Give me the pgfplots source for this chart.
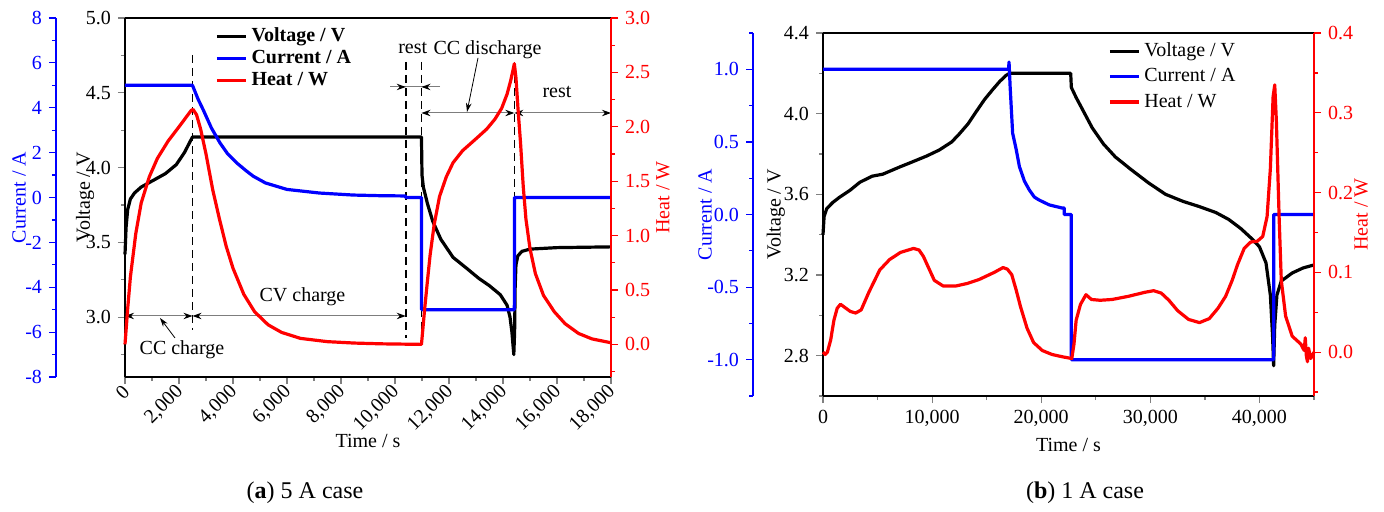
\documentclass[border=0pt]{standalone}
\usepackage{fontspec}
\setmainfont{Liberation Serif}
\usepackage{pgfplots}
\pgfplotsset{compat=1.18}
\usetikzlibrary{arrows.meta}
\definecolor{cblue}{RGB}{0,0,255}
\definecolor{cred}{RGB}{255,0,0}
\definecolor{cgray}{RGB}{125,125,125}
\tikzset{
  dl/.style={line width=1.6pt, line join=round},
  dsh/.style={black, line width=0.8pt, dash pattern=on 4pt off 2.5pt},
  ann/.style={cgray, line width=0.5pt},
  tip/.style={-{Stealth[length=4.5pt,width=3.2pt,color=black]}},
  ptr/.style={black, line width=0.4pt, -{Stealth[length=4.5pt,width=2.8pt,color=black]}},
  dbl/.style={{Stealth[length=4.5pt,width=3.2pt,color=black]}-{Stealth[length=4.5pt,width=3.2pt,color=black]}},
}
\pgfplotsset{
  base/.style={scale only axis, anchor=south west,
    /pgf/number format/assume math mode=true,
    tick align=outside, major tick length=3.5pt, minor tick length=2pt,
    every tick/.append style={line width=0.6pt},
    axis line style={line width=0.65pt},
    scaled ticks=false, clip=false},
  onedec/.style={yticklabel style={/pgf/number format/fixed, /pgf/number format/fixed zerofill, /pgf/number format/precision=1}},
  blueax/.style={axis x line=none, axis y line*=left,
    y axis line style={cblue}, ytick style={cblue}, yticklabel style={/tikz/text=cblue}, ylabel style={/tikz/text=cblue}},
  redax/.style={axis x line=none, axis y line*=right,
    y axis line style={cred}, ytick style={cred}, yticklabel style={/tikz/text=cred}, ylabel style={/tikz/text=cred}},
}
\begin{document}
\begin{tikzpicture}
\useasboundingbox (-62.5pt,-67pt) rectangle (629.5pt,188.5pt);

% ================= Panel (a) =================
\begin{axis}[base, at={(0pt,0pt)}, width=243pt, height=179.5pt,
  xmin=0, xmax=18000, ymin=2.6, ymax=5.0,
  axis x line*=box, axis y line*=left, xtick pos=bottom,
  xtick={0,2000,...,18000}, minor xtick={1000,3000,...,17000},
  ytick={3,3.5,4,4.5,5}, minor ytick={2.75,3.25,3.75,4.25,4.75},
  onedec,
  xticklabel style={xshift=3pt, yshift=0pt, rotate=45, anchor=east},
  xlabel={Time / s}, ylabel={Voltage / V},
  xlabel style={at={(axis description cs:0.5,-0.178)}, anchor=center},
  ylabel style={at={(axis description cs:-0.082,0.5)}, anchor=center},
  legend style={draw=none, fill=none, at={(axis description cs:0.185,0.985)}, anchor=north west,
    font=\bfseries, row sep=-1.2pt, inner sep=0pt},
  legend cell align=left,
  legend image code/.code={\draw[#1] (0pt,0pt) -- (14.5pt,0pt);},
]
\addplot[black, dl] table {
0 3.42
40 3.60
100 3.72
200 3.79
350 3.83
600 3.87
1000 3.91
1500 3.96
1900 4.02
2200 4.10
2400 4.17
2500 4.205
10980 4.205
11000 3.95
11050 3.87
11200 3.76
11400 3.64
11700 3.52
12150 3.40
12700 3.32
13100 3.26
13500 3.21
13900 3.15
14150 3.08
14260 3.00
14330 2.90
14400 2.75
14430 2.90
14450 3.20
14480 3.35
14550 3.41
14700 3.44
15000 3.455
16000 3.465
18000 3.47
};
\addlegendentry{Voltage / V}
\addlegendimage{cblue, dl}
\addlegendentry{Current / A}
\addlegendimage{cred, dl}
\addlegendentry{Heat / W}
% dashed separators
\draw[dsh] (axis cs:2500,4.753) -- (axis cs:2500,2.914);
\draw[dsh] (axis cs:10400,4.706) -- (axis cs:10400,2.861);
\draw[dsh] (axis cs:10980,4.706) -- (axis cs:10980,2.861);
\draw[dsh] (axis cs:14420,4.706) -- (axis cs:14420,2.747);
% CC charge / CV charge
\draw[ann, dbl] (axis cs:0,3.008) -- (axis cs:2500,3.008);
\draw[ann, dbl] (axis cs:2500,3.008) -- (axis cs:10400,3.008);
\draw[ptr] (axis cs:1852,2.861) -- (axis cs:1296,2.995);
\node at (axis cs:2111,2.78) {CC charge};
\node at (axis cs:6574,3.135) {CV charge};
% rest 1
\draw[ann] (axis cs:9815,4.539) -- (axis cs:11667,4.539);
\draw[ann, tip] (axis cs:9815,4.539) -- (axis cs:10400,4.539);
\draw[ann, tip] (axis cs:11667,4.539) -- (axis cs:10980,4.539);
\node at (axis cs:10656,4.80) {rest};
% CC discharge
\draw[ann, dbl] (axis cs:10980,4.365) -- (axis cs:14420,4.365);
\draw[ptr] (axis cs:13074,4.733) -- (axis cs:12667,4.372);
\node at (axis cs:13426,4.79) {CC discharge};
% rest 2
\draw[ann, dbl] (axis cs:14420,4.365) -- (axis cs:18000,4.365);
\node at (axis cs:16000,4.505) {rest};
\end{axis}

% current axis line (a)
\begin{axis}[base, blueax, at={(-34.5pt,0pt)}, width=100pt, height=179.5pt,
  xmin=0, xmax=1, ymin=-8, ymax=8,
  ytick={-8,-6,...,8}, minor ytick={-7,-5,...,7},
  ylabel={Current / A},
  ylabel style={at={(axis description cs:-0.185,0.5)}, anchor=center},
]
\end{axis}

% current data (a)
\begin{axis}[scale only axis, anchor=south west, at={(0pt,0pt)}, width=243pt, height=179.5pt,
  xmin=0, xmax=18000, ymin=-8, ymax=8, hide axis]
\addplot[cblue, dl] table {
0 5
2500 5
2700 4.4
2900 3.9
3200 3.1
3520 2.43
3800 1.95
4140 1.54
4500 1.18
4750 0.95
5200 0.65
6000 0.36
7200 0.2
8450 0.11
9500 0.08
10380 0.07
10400 0.0
10980 0.0
10985 -5
14420 -5
14425 0
18000 0
};
\end{axis}

% heat (a)
\begin{axis}[base, redax, at={(0pt,0pt)}, width=243pt, height=179.5pt,
  xmin=0, xmax=18000, ymin=-0.3, ymax=3.0,
  ytick={0,0.5,1,1.5,2,2.5,3}, minor ytick={-0.25,0.25,0.75,1.25,1.75,2.25,2.75},
  onedec,
  ylabel={Heat / W},
  ylabel style={at={(axis description cs:1.107,0.5)}, anchor=center},
]
\addplot[cred, dl] table {
0 0.0
100 0.33
200 0.62
400 1.02
600 1.30
900 1.54
1200 1.71
1600 1.87
2000 2.00
2300 2.10
2450 2.15
2520 2.16
2650 2.11
2800 1.98
3000 1.75
3250 1.42
3500 1.15
3750 0.90
4000 0.70
4400 0.46
4800 0.30
5300 0.18
5800 0.11
6500 0.055
7500 0.025
8500 0.012
9500 0.005
10980 0.0
11100 0.33
11200 0.58
11300 0.82
11450 1.10
11650 1.36
11900 1.54
12150 1.67
12500 1.78
13000 1.89
13400 1.98
13700 2.07
13950 2.17
14150 2.30
14280 2.42
14370 2.52
14420 2.58
14480 2.45
14560 2.15
14650 1.85
14750 1.45
14850 1.15
15000 0.88
15200 0.65
15500 0.45
15900 0.30
16300 0.19
16800 0.10
17300 0.05
18000 0.015
};
\end{axis}

% ================= Panel (b) =================
\begin{axis}[base, at={(349pt,-9.5pt)}, width=245.5pt, height=181.5pt,
  xmin=0, xmax=45000, ymin=2.6, ymax=4.4,
  axis x line*=box, axis y line*=left, xtick pos=bottom,
  xtick={0,10000,...,40000}, minor xtick={5000,15000,...,45000},
  ytick={2.8,3.2,3.6,4.0,4.4}, minor ytick={2.6,3.0,3.4,3.8,4.2},
  onedec,
  xlabel={Time / s}, ylabel={Voltage / V},
  xlabel style={at={(axis description cs:0.5,-0.135)}, anchor=center},
  ylabel style={at={(axis description cs:-0.096,0.5)}, anchor=center},
  legend style={draw=none, fill=none, at={(axis description cs:0.58,0.985)}, anchor=north west,
    row sep=0.5pt, inner sep=0pt},
  legend cell align=left,
  legend image code/.code={\draw[#1] (0pt,0pt) -- (14.5pt,0pt);},
]
\addplot[black, dl] table {
0 3.40
100 3.49
350 3.53
900 3.56
1500 3.585
2470 3.62
3380 3.66
4500 3.69
5480 3.70
7000 3.735
7920 3.755
9500 3.79
10660 3.82
11800 3.86
12500 3.90
13300 3.95
14040 4.01
14800 4.07
15560 4.12
16200 4.16
16780 4.19
17090 4.20
22700 4.20
22760 4.13
23200 4.08
23790 4.02
24670 3.93
25700 3.85
26800 3.785
28300 3.72
29880 3.655
31400 3.60
33000 3.565
34450 3.54
36000 3.51
37200 3.475
38300 3.43
39300 3.38
40000 3.34
40600 3.26
41000 3.10
41200 2.90
41300 2.75
41400 2.95
41600 3.10
42000 3.17
43000 3.21
44000 3.235
45000 3.25
};
\addlegendentry{Voltage / V}
\addlegendimage{cblue, dl}
\addlegendentry{Current / A}
\addlegendimage{cred, dl}
\addlegendentry{Heat / W}
\end{axis}

% current axis line (b)
\begin{axis}[base, blueax, at={(314pt,-9.5pt)}, width=100pt, height=181.5pt,
  xmin=0, xmax=1, ymin=-1.25, ymax=1.25,
  ytick={-1,-0.5,0,0.5,1}, minor ytick={-1.25,-0.75,-0.25,0.25,0.75,1.25},
  onedec,
  ylabel={Current / A},
  ylabel style={at={(axis description cs:-0.24,0.5)}, anchor=center},
]
\end{axis}

% current data (b)
\begin{axis}[scale only axis, anchor=south west, at={(349pt,-9.5pt)}, width=245.5pt, height=181.5pt,
  xmin=0, xmax=45000, ymin=-1.25, ymax=1.25, hide axis]
\addplot[cblue, dl] table {
0 1.0
17000 1.0
17050 1.05
17150 0.88
17380 0.56
17700 0.45
18000 0.33
18460 0.23
18900 0.17
19370 0.12
19800 0.10
20740 0.066
21900 0.045
22100 0.045
22110 0.0
22750 0.0
22760 -1.0
41300 -1.0
41310 0.0
45000 0.0
};
\end{axis}

% heat (b)
\begin{axis}[base, redax, at={(349pt,-9.5pt)}, width=245.5pt, height=181.5pt,
  xmin=0, xmax=45000, ymin=-0.055, ymax=0.4,
  ytick={0,0.1,0.2,0.3,0.4}, minor ytick={-0.05,0.05,0.15,0.25,0.35},
  onedec,
  ylabel={Heat / W},
  ylabel style={at={(axis description cs:1.096,0.5)}, anchor=center},
]
\addplot[cred, dl] table {
0 0.0
200 -0.003
400 0.0
700 0.015
1000 0.04
1300 0.055
1600 0.06
2000 0.056
2500 0.051
3000 0.049
3500 0.053
4200 0.075
5200 0.103
6100 0.116
7100 0.125
8300 0.13
8800 0.128
9200 0.12
9700 0.105
10200 0.09
11000 0.083
12200 0.083
13200 0.086
14300 0.091
15700 0.10
16500 0.106
16900 0.104
17300 0.097
17700 0.078
18100 0.057
18700 0.03
19300 0.012
20100 0.002
21000 -0.003
22000 -0.006
22800 -0.008
23000 0.01
23200 0.04
23600 0.06
24100 0.072
24600 0.066
25400 0.065
26500 0.066
28000 0.07
29500 0.075
30300 0.077
31000 0.074
31700 0.065
32500 0.052
33500 0.041
34500 0.037
35400 0.042
36200 0.055
36900 0.07
37500 0.09
38000 0.11
38600 0.13
39200 0.138
39800 0.139
40300 0.145
40700 0.17
41000 0.23
41250 0.32
41400 0.335
41550 0.29
41800 0.17
42000 0.09
42400 0.045
43000 0.02
43800 0.01
44100 0.002
44200 0.018
44300 -0.005
44400 -0.012
44500 0.005
44700 -0.008
45000 0.0
};
\end{axis}

\node[font=\fontsize{12}{14}\selectfont] at (90pt,-58pt) {(\textbf{a}) 5 A case};
\node[font=\fontsize{12}{14}\selectfont] at (480pt,-58pt) {(\textbf{b}) 1 A case};
\end{tikzpicture}
\end{document}
